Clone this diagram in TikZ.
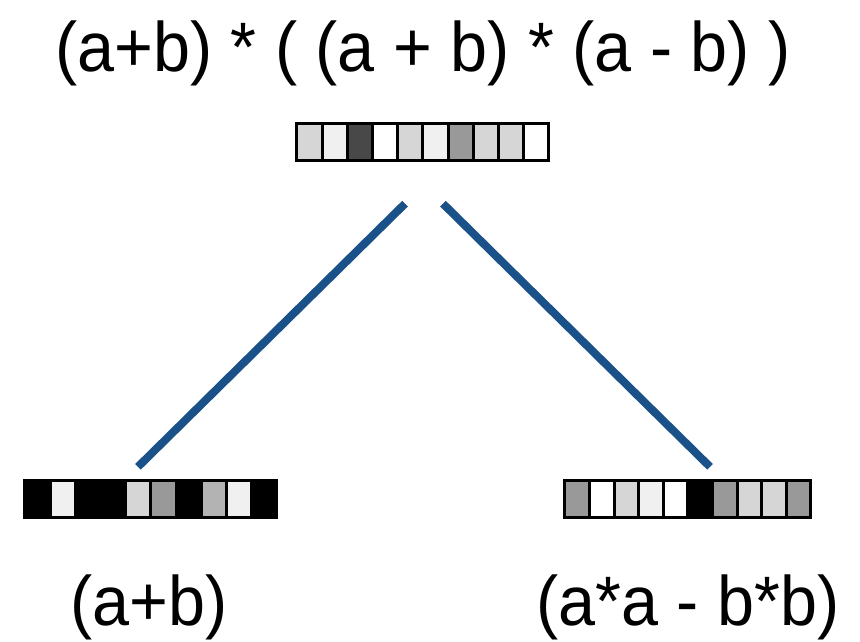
\documentclass[tikz,border=0pt]{standalone}
\usepackage{fontspec}
\setmainfont[FakeStretch=0.95]{Liberation Sans}
\usepackage{xcolor}
\usetikzlibrary{positioning,calc}
\definecolor{edgeblue}{HTML}{1A5189}
\definecolor{gA}{HTML}{D6D6D6}
\definecolor{gB}{HTML}{F0F0F0}
\definecolor{gC}{HTML}{484848}
\definecolor{gD}{HTML}{999999}
\definecolor{gE}{HTML}{B3B3B3}
\tikzset{
  vecbox/.style={minimum height=37pt, inner sep=0pt},
  cell/.style={draw=black, line width=3pt},
  expr/.style={font=\fontsize{70}{74}\selectfont, anchor=base, inner sep=0pt},
  treeedge/.style={draw=edgeblue, line width=8pt, line cap=butt}
}

\begin{document}
\begin{tikzpicture}[x=1pt, y=-1pt]
\useasboundingbox (0,0) rectangle (860,642);
% the three vectors
\node[vecbox, minimum width=252pt] (top) at (423,142) {};
\node[vecbox, minimum width=252pt] (lvec) at (151,499.5) {};
\node[vecbox, minimum width=246pt] (rvec) at (688,499.5) {};
% cells, left to right
\foreach \v/\w/\cols in {top/25.2/{gA,gB,gC,white,gA,gB,gD,gA,gA,white},
                         lvec/25.2/{black,gB,black,black,gA,gD,black,gE,gB,black},
                         rvec/24.6/{gD,white,gA,gB,white,black,gD,gA,gA,gD}} {
  \foreach \c [count=\i from 0] in \cols {
    \draw[cell, fill=\c] ($(\v.north west)+(\w*\i,0)$) rectangle ++(\w,37);
  }
}
% edges of the tree
\draw[treeedge] ($(top.south)+(-18,43)$) -- ($(lvec.north)+(-13,-14)$);
\draw[treeedge] ($(top.south)+(20,43)$) -- ($(rvec.north)+(22,-14)$);
% expressions
\node[expr] (toptext) at (423,72) {(a+b) * ( (a + b) * (a - b) )};
\node[expr] (ltext) at (149,625) {(a+b)};
\node[expr] (rtext) at (688,625) {(a*a - b*b)};
\end{tikzpicture}
\end{document}
